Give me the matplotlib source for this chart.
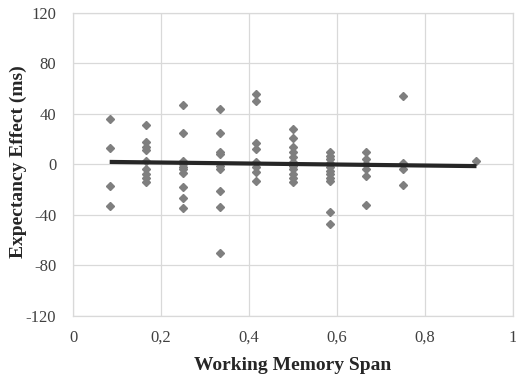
import matplotlib
matplotlib.use("Agg")
import matplotlib.pyplot as plt
import numpy as np

plt.rcParams["axes.unicode_minus"] = False

# working memory span groups (k/12) and the expectancy effects (ms) read per group
span_groups = [1/12, 2/12, 3/12, 4/12, 5/12, 6/12, 7/12, 8/12, 9/12, 11/12]
effects = [
    [36, 13, -17, -33],
    [31, 18, 14, 11, 3, -4, -8, -11, -14],
    [47, 25, 3, 0, -2, -4, -7, -18, -27, -35],
    [44, 25, 10, 8, -1, -4, -21, -34, -70],
    [56, 50, 17, 12, 2, -2, -6, -13],
    [28, 21, 14, 10, 6, 2, -1, -4, -8, -11, -14],
    [10, 7, 4, 1, -2, -5, -8, -11, -13, -38, -47],
    [10, 4, 0, -4, -9, -32],
    [54, 1, -4, -16],
    [3],
]

x_ticks = [0, 0.2, 0.4, 0.6, 0.8, 1.0]
x_labels = ["0", "0,2", "0,4", "0,6", "0,8", "1"]
y_ticks = [-120, -80, -40, 0, 40, 80, 120]

xs = np.concatenate([[g] * len(v) for g, v in zip(span_groups, effects)])
ys = np.concatenate(effects)

fig = plt.figure(figsize=(5.16, 3.78), dpi=100)
ax = fig.add_axes([0.1415, 0.165, 0.853, 0.8005])

grid_c = "#d9d9d9"
ax.grid(True, color=grid_c, lw=0.9)
ax.set_axisbelow(True)
for s in ax.spines.values():
    s.set_color(grid_c)
    s.set_linewidth(0.9)

ax.plot(xs, ys, ls="none", marker="D", ms=4.0, color="#7f7f7f", mec="#7f7f7f")

# linear trend line over the observed span range
slope, icpt = np.polyfit(xs, ys, 1)
tx = np.array([min(span_groups), max(span_groups)])
ax.plot(tx, slope * tx + icpt, color="#262626", lw=3.0, solid_capstyle="butt")

ax.set_xlim(0, 1)
ax.set_ylim(-120, 120)
ax.set_xticks(x_ticks)
ax.set_xticklabels(x_labels)
ax.set_yticks(y_ticks)
ax.tick_params(axis="y", length=0, labelsize=12, labelcolor="#404040", pad=12)
ax.tick_params(axis="x", length=0, labelsize=12, labelcolor="#404040", pad=10)
for lab in ax.get_xticklabels() + ax.get_yticklabels():
    lab.set_family("Liberation Serif")

ax.set_xlabel("Working Memory Span", family="Liberation Serif", fontsize=14,
              fontweight="bold", color="#262626", labelpad=8)
ax.set_ylabel("Expectancy Effect (ms)", family="Liberation Serif", fontsize=14,
              fontweight="bold", color="#262626")
ax.yaxis.set_label_coords(-0.104, 0.51)

fig.savefig("out.png", dpi=100, facecolor="white")
